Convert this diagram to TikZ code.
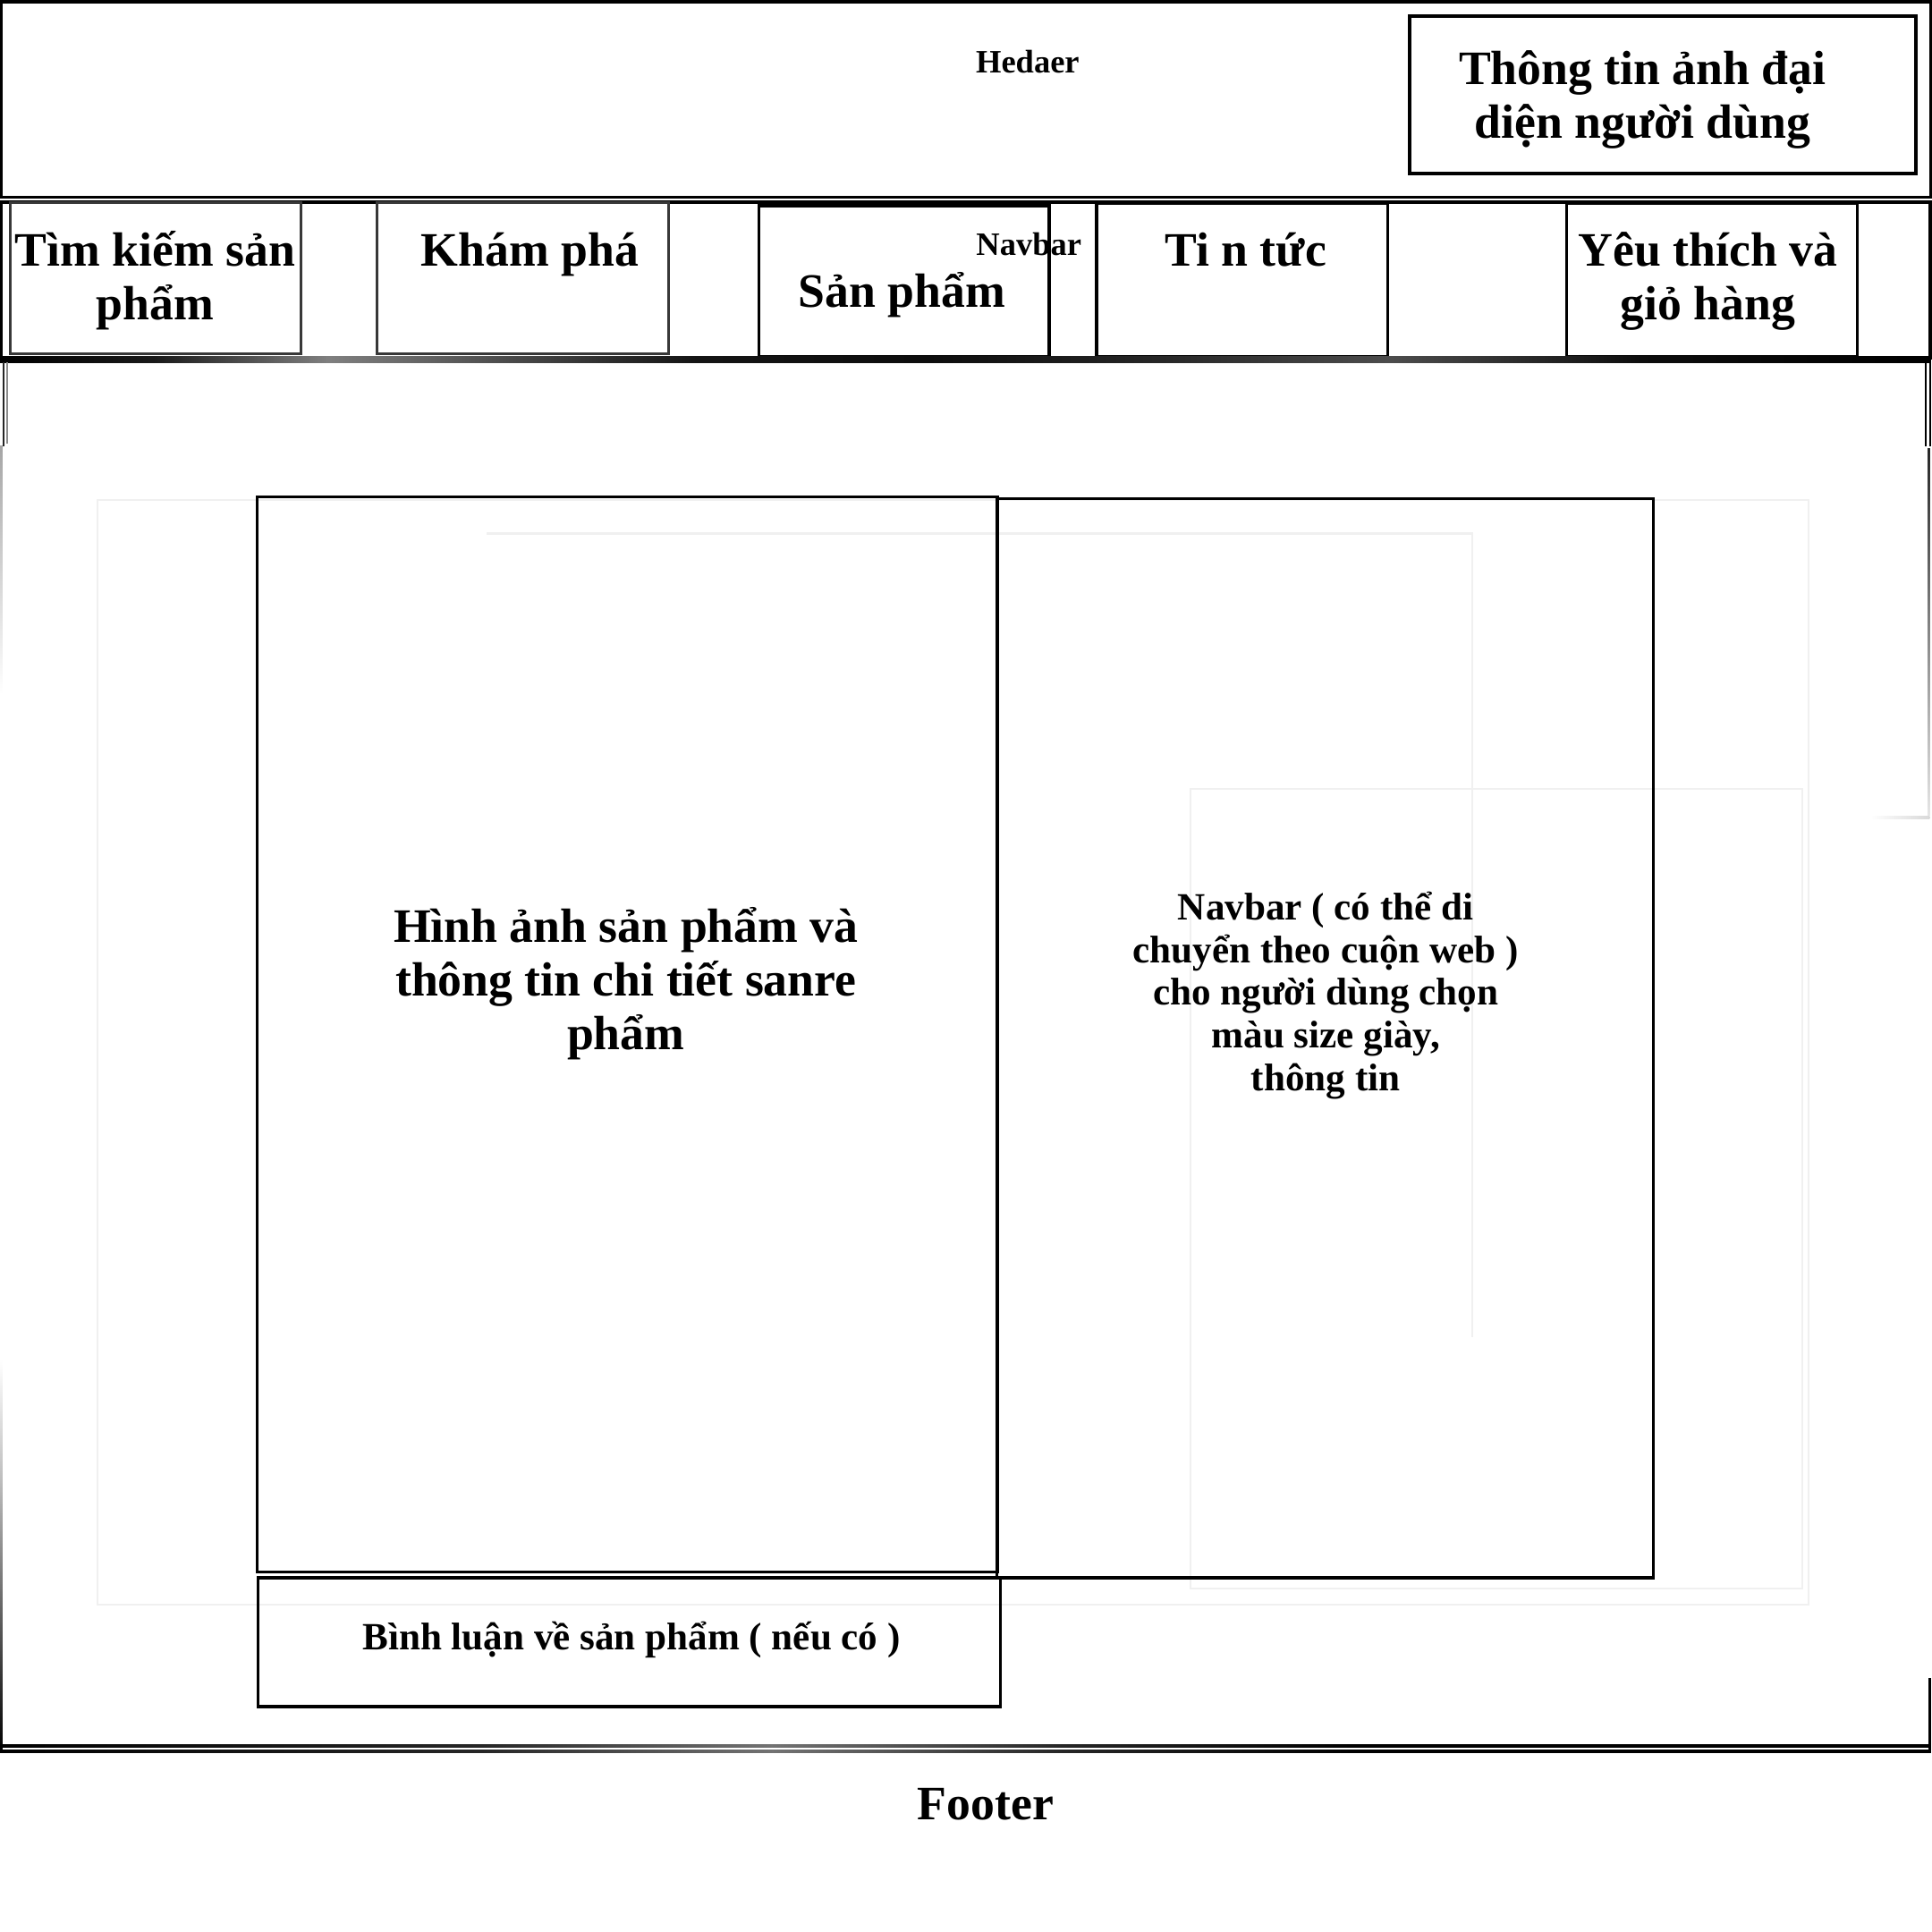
\documentclass[tikz,border=0pt]{standalone}
\usepackage{fontspec}
\setmainfont{Liberation Serif}

% Multi-stop shadings for the heavy rules (path box maps to 25bp..75bp)
\pgfdeclarehorizontalshading{navbarbar}{100bp}{color(0bp)=(black); color(25bp)=(black); color(29bp)=(black!90); color(33.5bp)=(black!50); color(38bp)=(black!70); color(43bp)=(black!92); color(49bp)=(black!95); color(55bp)=(black!85); color(61bp)=(black!70); color(67.5bp)=(black!95); color(75bp)=(black); color(100bp)=(black)}
\pgfdeclarehorizontalshading{footerline}{100bp}{color(0bp)=(black); color(25bp)=(black); color(37.5bp)=(black!85); color(45bp)=(black!55); color(52.5bp)=(black!85); color(60bp)=(black); color(75bp)=(black); color(100bp)=(black)}
\pgfdeclareverticalshading{leftedge}{100bp}{color(0bp)=(black); color(25bp)=(black); color(30.5bp)=(black!60); color(35.5bp)=(black!25); color(40bp)=(white); color(65.5bp)=(white); color(75bp)=(black!35); color(100bp)=(black!35)}

\tikzset{
  frame/.style={draw, inner sep=0pt, outer sep=0pt, line width=2.3pt, anchor=north west},
  navframe/.style={frame, draw=black!78},
  ghost/.style={draw=black!6, line width=1.5pt},
  % labels are anchored at the baseline of their last line
  biglbl/.style={inner sep=0pt, align=center, anchor=base, font=\bfseries\fontsize{39pt}{43.5pt}\selectfont},
  midlbl/.style={inner sep=0pt, align=center, anchor=base, font=\bfseries\fontsize{31.3pt}{34.6pt}\selectfont},
  smalllbl/.style={inner sep=0pt, align=center, anchor=base, font=\bfseries\fontsize{26.5pt}{30pt}\selectfont},
}

\begin{document}
\begin{tikzpicture}[x=1pt, y=-1pt]
\useasboundingbox[fill=white] (0,0) rectangle (1568,1568);

% faint guide lines in the content area
\draw[ghost] (79,406) rectangle (1468,1302);
\draw[ghost] (966,640) rectangle (1463,1289);
\draw[ghost] (395,433) -- (1195,433) -- (1195,1085);

% ---------- header ----------
\node[frame, minimum width=1566pt, minimum height=158.5pt] (header) at (1,1.5) {};
\node[frame, line width=2.6pt, minimum width=411pt, minimum height=128pt] (avatar) at (1144,13) {};
\node[smalllbl] (headerlbl) at (834,59.5) {Hedaer};
\node[biglbl] (avatarlbl) at (1333,112) {Thông tin ảnh đại\\diện người dùng};

% ---------- navbar ----------
\node[frame, minimum width=1565.5pt, minimum height=127pt] (navbar) at (1,164) {};
\node[navframe, minimum width=236pt, minimum height=122.5pt] (nsearch) at (8.5,164.5) {};
\node[navframe, minimum width=236.5pt, minimum height=122.5pt] (nexplore) at (306,164.5) {};
\node[frame, minimum width=235.5pt, minimum height=122pt] (nproduct) at (616,167) {};
\node[frame, minimum width=236.5pt, minimum height=124pt] (nnews) at (890,165) {};
\node[frame, minimum width=236pt, minimum height=124pt] (nfav) at (1271.5,165) {};
\shade[shading=navbarbar] (0,289) rectangle (1567,294.5);

\node[biglbl] (searchlbl) at (126,259.5) {Tìm kiếm sản\\phẩm};
\node[biglbl] (explorelbl) at (430,216) {Khám phá};
\node[biglbl] (productlbl) at (732,249.5) {Sản phẩm};
\node[smalllbl] (navbarlbl) at (835,207) {Navbar};
\node[biglbl] (newslbl) at (1011,216) {Ti n tức};
\node[biglbl] (favlbl) at (1386,259.5) {Yêu thích và\\giỏ hàng};

% ---------- page edges ----------
\draw[line width=1.5pt, black!85] (3,294) -- (3,362);
\draw[line width=1.2pt, black!45] (6,294) -- (6,360);
\shade[shading=leftedge] (0,362) rectangle (2,1421);
\draw[line width=1.5pt] (1563,294) -- (1563,362);
\draw[line width=1.5pt] (1566.5,294) -- (1566.5,362);
\shade[top color=black!85, bottom color=black!10] (1564.5,364) rectangle (1566.5,662);
\shade[left color=white, right color=black!15] (1518,662.5) rectangle (1566,664.5);
\draw[line width=2.2pt] (1566,1362) -- (1566,1422.5);

% ---------- content ----------
\node[frame, minimum width=600.5pt, minimum height=873pt] (gallery) at (209,403) {};
\draw[line width=3.2pt] (gallery.north east) -- (gallery.south east);
\node[frame, minimum width=533pt, minimum height=875.5pt] (options) at (809,405) {};
\node[frame, minimum width=602.5pt, minimum height=104.5pt] (comments) at (209.5,1280.5) {};

\node[biglbl] (gallerylbl) at (508,852) {Hình ảnh sản phẩm và\\thông tin chi tiết sanre\\phẩm};
\node[midlbl] (optionslbl) at (1076,885) {Navbar ( có thể di\\chuyển theo cuộn web )\\cho người dùng chọn\\màu size giày,\\thông tin};
\node[midlbl] (commentslbl) at (512.5,1339) {Bình luận về sản phẩm ( nếu có )};

% ---------- footer ----------
\shade[shading=footerline] (0,1416) rectangle (1566,1418.2);
\shade[shading=footerline] (0,1420.5) rectangle (1567,1422.7);
\node[biglbl] (footerlbl) at (800,1477) {Footer};
\end{tikzpicture}
\end{document}
